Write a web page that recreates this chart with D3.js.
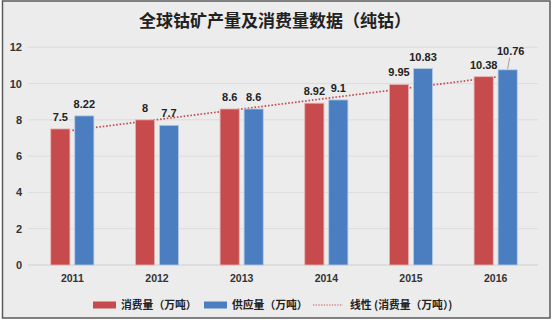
<!DOCTYPE html>
<html><head><meta charset="utf-8">
<script src="https://cdn.jsdelivr.net/npm/d3@7"></script>
<style>body{margin:0;background:#fff;}svg{display:block;}</style>
</head><body>
<svg id="chart" width="553" height="323"></svg>
<script>
const title = "全球钴矿产量及消费量数据（纯钴）";
const years = ["2011","2012","2013","2014","2015","2016"];
const consumption = [7.5, 8, 8.6, 8.92, 9.95, 10.38];
const supply = [8.22, 7.7, 8.6, 9.1, 10.83, 10.76];
const yTicks = [0, 2, 4, 6, 8, 10, 12];
const seriesNames = ["消费量（万吨）", "供应量（万吨）"];
const trendName = "线性 (消费量（万吨）)";
const colors = ["#c74b4c", "#4a7ec0"];

const svg = d3.select("#chart");

svg.append("rect").attr("x",2.5).attr("y",1).attr("width",547.5).attr("height",317)
  .attr("fill","#ececec").attr("stroke","#5a5a5a").attr("stroke-width",1.5);

svg.append("text").attr("x",275).attr("y",27).attr("text-anchor","middle")
  .attr("font-family","'Noto Sans CJK SC'").attr("font-weight","bold")
  .attr("font-size",17).attr("fill","#222").text(title);

const x = d3.scaleBand().domain(years).range([30,538]).paddingInner(0.49).paddingOuter(0.245);
const xi = d3.scaleBand().domain([0,1]).range([0,x.bandwidth()]).paddingInner(0.2);
const y = d3.scaleLinear().domain([0,12]).range([265,47.3]);

// gridlines
svg.append("g").selectAll("line").data(yTicks).join("line")
  .attr("x1",28).attr("x2",538).attr("y1",d=>y(d)).attr("y2",d=>y(d))
  .attr("stroke",d=>d===0?"#cfcfcf":"#dcdcdc").attr("stroke-width",1);

// y axis labels
const yAxis = d3.axisLeft(y).tickValues(yTicks).tickSize(0).tickPadding(0);
const ga = svg.append("g").attr("transform","translate(22,0)").call(yAxis);
ga.select(".domain").remove();
ga.selectAll("text").attr("font-family","'Liberation Sans', Arial").attr("font-weight","bold")
  .attr("font-size",11).attr("fill","#333");

// x axis labels
const xAxis = d3.axisBottom(x).tickSize(0).tickPadding(0);
const gx = svg.append("g").attr("transform","translate(0,275)").call(xAxis);
gx.select(".domain").remove();
gx.selectAll("text").attr("font-family","'Liberation Sans', Arial").attr("font-weight","bold")
  .attr("font-size",10.5).attr("fill","#333");

// trend line (linear trendline of consumption), drawn behind bars
const n = consumption.length;
const xs = d3.range(1, n+1);
const mx = d3.mean(xs), my = d3.mean(consumption);
const slope = d3.sum(xs.map((v,i)=>(v-mx)*(consumption[i]-my))) / d3.sum(xs.map(v=>(v-mx)*(v-mx)));
const icpt = my - slope*mx;
const trend = years.map((yr,i)=>({yr, v: icpt + slope*(i+1)}));
svg.append("path").datum(trend)
  .attr("d", d3.line().x(d=>x(d.yr)+x.bandwidth()/2).y(d=>y(d.v)))
  .attr("fill","none").attr("stroke","#c44a4f").attr("stroke-width",1.7)
  .attr("stroke-dasharray","1.6,1.8");

// bars
const series = [consumption, supply];
series.forEach((vals, si) => {
  svg.append("g").selectAll("rect").data(vals).join("rect")
    .attr("x",(d,i)=>x(years[i])+xi(si)).attr("width",xi.bandwidth())
    .attr("y",d=>y(d)).attr("height",d=>y(0)-y(d))
    .attr("fill",colors[si]).attr("stroke", si===0?"#e7b5b5":"#b8cde6").attr("stroke-width",0.8);
});

// data labels
series.forEach((vals, si) => {
  svg.append("g").selectAll("text").data(vals).join("text")
    .attr("x",(d,i)=>x(years[i])+xi(si)+xi.bandwidth()/2 + ((si===1 && i===5)?3:0))
    .attr("y",(d,i)=>y(d)-((si===1 && i===5)?15:8))
    .attr("text-anchor","middle")
    .attr("font-family","'Liberation Sans', Arial").attr("font-weight","bold")
    .attr("font-size",11).attr("fill","#222").text(d=>d);
});
// leader line for the offset 2016 supply label
{
  const bx = x(years[5])+xi(1)+xi.bandwidth()/2;
  svg.append("line").attr("x1",bx+2).attr("x2",bx).attr("y1",y(supply[5])-12).attr("y2",y(supply[5])-1)
    .attr("stroke","#888").attr("stroke-width",0.8);
}

// legend
const lg = svg.append("g");
const ly = 305;
const items = [
  {type:"rect", color:colors[0], label:seriesNames[0], x:93},
  {type:"rect", color:colors[1], label:seriesNames[1], x:204},
  {type:"line", color:"#c44a4f", label:trendName, x:313}
];
items.forEach(it=>{
  if(it.type==="rect"){
    lg.append("rect").attr("x",it.x).attr("y",ly-3.5).attr("width",23).attr("height",7).attr("fill",it.color);
    lg.append("text").attr("x",it.x+28).attr("y",ly+4).attr("font-family","'Noto Sans CJK SC'")
      .attr("font-weight","bold").attr("font-size",10.8).attr("fill","#222").text(it.label);
  } else {
    lg.append("line").attr("x1",it.x).attr("x2",it.x+30).attr("y1",ly).attr("y2",ly)
      .attr("stroke",it.color).attr("stroke-width",1).attr("stroke-dasharray","1.2,1.5");
    lg.append("text").attr("x",it.x+37).attr("y",ly+4).attr("font-family","'Noto Sans CJK SC'")
      .attr("font-weight","bold").attr("font-size",10.8).attr("fill","#222").text(it.label);
  }
});
</script>
</body></html>
